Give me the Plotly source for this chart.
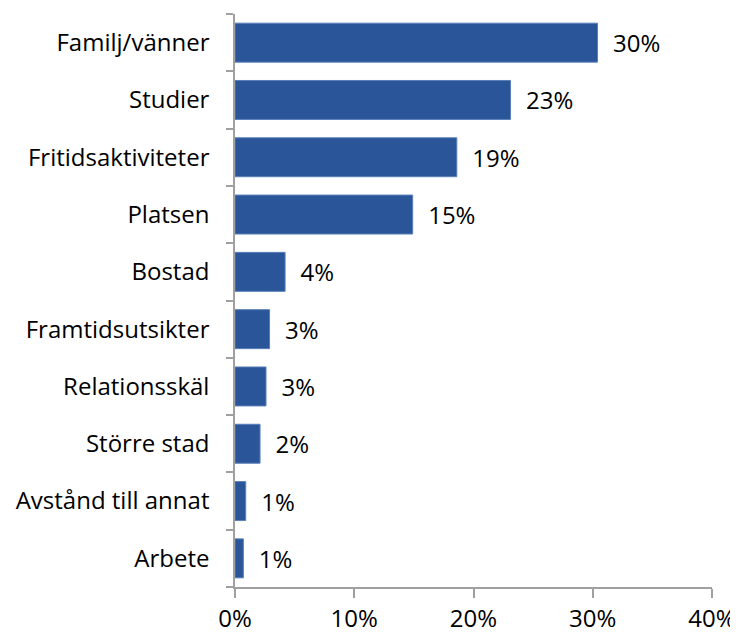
import plotly.graph_objects as go

categories = ["Familj/vänner", "Studier", "Fritidsaktiviteter", "Platsen", "Bostad",
              "Framtidsutsikter", "Relationsskäl", "Större stad", "Avstånd till annat", "Arbete"]
values = [30.4, 23.1, 18.6, 14.9, 4.2, 2.9, 2.6, 2.1, 0.9, 0.7]
labels = ["30%", "23%", "19%", "15%", "4%", "3%", "3%", "2%", "1%", "1%"]
x_ticks = [0, 10, 20, 30, 40]

font_family = "Open Sans, sans-serif"
fs = 24

fig = go.Figure(go.Bar(
    y=categories,
    x=values,
    orientation="h",
    width=0.68,
    marker=dict(color="#2A5699", line=dict(color="#5A7FB8", width=1)),
    text=["  " + t for t in labels],
    textposition="outside",
    textfont=dict(family=font_family, size=fs, color="#000000"),
    cliponaxis=False,
))

fig.update_layout(
    width=738, height=637,
    margin=dict(l=227, r=34, t=6, b=58, autoexpand=False),
    paper_bgcolor="white", plot_bgcolor="white",
    showlegend=False,
    font=dict(family=font_family, size=fs, color="#000000"),
)
fig.update_xaxes(
    range=[0, 40], tickvals=x_ticks, ticktext=[f"{v}%" for v in x_ticks],
    showgrid=False, zeroline=False, automargin=False,
    showline=True, linecolor="#A0A0A0", linewidth=1.5,
    ticks="outside", ticklen=9, tickcolor="#A0A0A0", tickwidth=1.5,
    ticklabelstandoff=0,
    tickfont=dict(family=font_family, size=fs, color="#000000"),
)
fig.update_yaxes(
    categoryorder="array", categoryarray=categories[::-1],
    showgrid=False, zeroline=False, automargin=False,
    showline=True, linecolor="#A0A0A0", linewidth=1.5,
    ticks="outside", ticklen=7, tickcolor="#A0A0A0", tickwidth=1.5,
    tickson="boundaries", ticklabelstandoff=19,
    tickfont=dict(family=font_family, size=fs, color="#000000"),
)

fig.write_html("out.html")
